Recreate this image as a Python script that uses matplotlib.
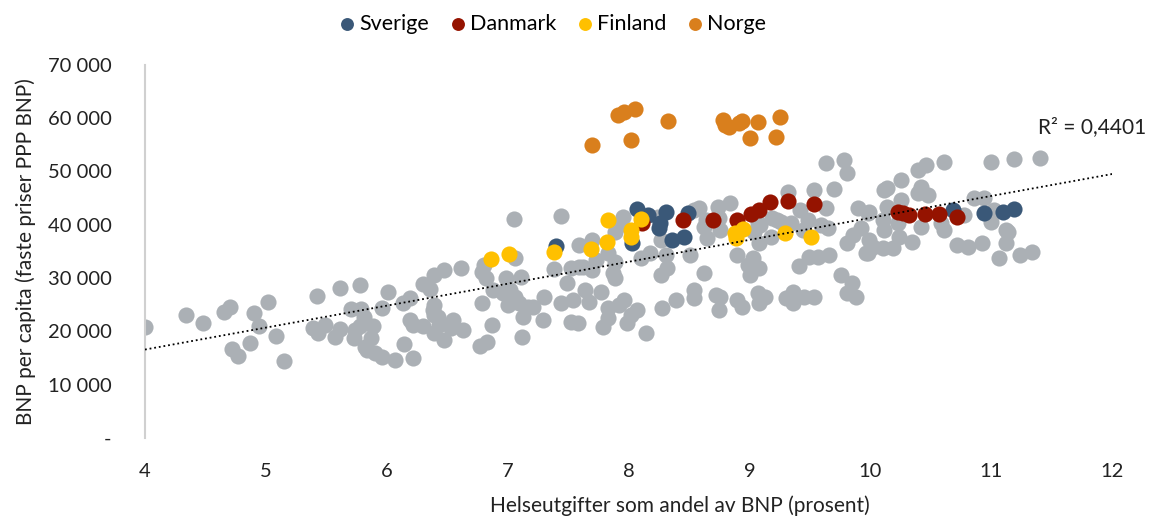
import matplotlib
matplotlib.use('Agg')
import matplotlib.pyplot as plt
import numpy as np

plt.rcParams['font.family'] = ['Lato', 'DejaVu Sans']

# Helseutgifter (% av BNP) og BNP per capita
sverige_x = [7.40, 8.03, 8.07, 8.16, 8.26, 8.25, 8.31, 8.36, 8.46, 8.49, 10.68, 10.94, 11.10, 11.19]
sverige_y = [36000, 36600, 43000, 41900, 40350, 39400, 42400, 37200, 37700, 42200, 42800, 42200, 42400, 43000]

danmark_x = [8.11, 8.45, 8.70, 8.90, 9.01, 9.08, 9.17, 9.32, 9.53, 10.23, 10.27, 10.32, 10.45, 10.57, 10.72]
danmark_y = [40300, 40900, 40900, 40900, 42000, 42800, 44300, 44500, 43900, 42400, 42200, 41900, 42000, 42000, 41500]

finland_x = [6.86, 7.01, 7.38, 7.69, 7.82, 7.83, 8.02, 8.02, 8.10, 8.88, 8.89, 8.95, 9.29, 9.51]
finland_y = [33600, 34500, 34900, 35500, 36800, 40900, 39000, 37700, 41100, 38500, 37500, 39200, 38500, 37700]

norge_x = [7.70, 7.91, 7.96, 8.05, 8.02, 8.33, 8.78, 8.80, 8.83, 8.91, 8.94, 9.00, 9.07, 9.22, 9.25]
norge_y = [55000, 60600, 61200, 61750, 55900, 59500, 59700, 58750, 58400, 59100, 59500, 56300, 59300, 56500, 60200]

andre_x = [
    4.00, 4.34, 4.48, 4.65, 4.70, 4.90, 4.94, 5.02, 4.72, 4.77, 4.87, 5.08, 5.15,
    5.42, 5.61, 5.78, 6.01, 6.30, 6.36, 6.39, 6.13, 6.19, 5.96, 5.70, 5.79, 5.81, 5.89,
    5.39, 5.43, 5.49, 5.61, 5.57, 5.74, 5.73, 5.78, 5.87, 5.82, 5.84, 5.90, 5.96, 6.07,
    6.14, 6.22, 6.19, 6.22, 6.30, 6.39, 6.38, 6.39,
    7.05, 7.44, 6.61, 6.47, 6.79, 6.82, 6.80, 7.06, 7.11, 6.99, 6.88, 6.96, 7.02, 7.06,
    7.00, 7.09, 7.17, 7.21, 7.13, 7.29, 7.30, 6.79, 6.39, 6.42, 6.43, 6.55, 6.53, 6.63,
    6.47, 6.87, 7.12, 6.77, 6.83, 7.38, 7.49, 7.44, 7.54, 7.52, 7.58, 7.52, 7.59, 7.59,
    7.70, 7.89, 7.95, 7.92, 8.24, 8.58, 8.74, 8.64, 8.65, 8.27, 8.51, 8.31, 8.18, 8.10,
    7.89, 7.83, 7.73, 7.62, 7.70, 7.87, 7.89, 8.32, 8.27, 8.62, 7.64, 7.77, 7.67, 7.96,
    7.92, 7.83, 8.07, 8.02, 7.83, 7.99, 7.79, 8.14, 8.28, 8.39, 8.54, 8.54, 8.72, 8.75,
    9.63, 9.78, 9.81, 9.32, 9.53, 9.70, 8.84, 9.42, 9.63, 9.48, 9.23, 9.09, 9.34, 9.59,
    9.65, 9.44, 9.04, 9.08, 9.18, 9.90, 9.98, 9.92, 9.86, 9.81, 9.98, 8.90, 9.03, 8.99,
    9.08, 9.00, 9.41, 9.49, 9.57, 9.66, 9.76, 9.85, 9.81, 9.88, 8.76, 8.90, 8.94, 9.07,
    9.13, 9.08, 9.30, 9.36, 9.36, 9.45, 9.53,
    10.61, 11.00, 10.39, 10.46, 10.25, 10.11, 10.14, 10.42, 10.39, 10.48, 10.25, 10.14,
    9.99, 10.86, 10.94, 11.02, 11.00, 11.12, 10.42, 10.58, 10.61, 10.77, 10.10, 10.11,
    10.23, 10.24, 9.99, 10.02, 10.10, 10.19, 10.34, 9.96, 10.72, 10.81, 10.92, 11.06,
    11.19, 11.40, 11.14, 11.12, 11.24, 11.34,
    8.54, 9.19, 9.26, 9.07, 8.75, 8.62, 8.76,
]
andre_y = [
    20800, 23100, 21600, 23600, 24600, 23500, 21000, 25500, 16700, 15400, 17800, 19100, 14500,
    26600, 28200, 28700, 27400, 28900, 28000, 30600, 25300, 26300, 24400, 24200, 24200, 22700, 21000,
    20600, 19700, 21200, 20500, 19000, 20300, 18800, 21000, 18800, 17100, 16500, 16000, 15200, 14600,
    17600, 15000, 22100, 21200, 21000, 19700, 24000, 23100,
    41100, 41700, 31900, 31500, 31200, 30000, 32500, 33800, 30200, 30000, 27800, 27200, 27800, 26500,
    25000, 25300, 24600, 24600, 22700, 22100, 26500, 25300, 25000, 22700, 21200, 22100, 20600, 20300,
    18400, 21200, 19000, 17300, 18000, 31700, 29100, 25300, 25900, 21800, 21600, 31900, 32100, 36200,
    37200, 38700, 41500, 40000, 41500, 43200, 43400, 40900, 37500, 37200, 34400, 34400, 34700, 33800,
    33000, 34700, 33400, 32100, 31500, 31000, 30000, 31900, 30600, 31000, 27800, 27400, 25500, 25900,
    25000, 24400, 24000, 23100, 22500, 21600, 20800, 19700, 24400, 25900, 27800, 26300, 26800, 24000,
    51600, 52200, 49700, 46200, 46600, 46700, 44100, 42800, 43200, 40900, 40900, 40000, 40400, 40000,
    39400, 39000, 38700, 36600, 37700, 43200, 42200, 39400, 38100, 36600, 34700, 34400, 33800, 32500,
    31900, 30600, 32300, 34000, 34000, 34400, 30600, 29100, 27200, 26500, 26500, 25900, 24600, 27200,
    26500, 25300, 26300, 27400, 25300, 26500, 26500,
    51800, 51800, 50300, 51200, 48400, 46600, 46900, 47100, 46000, 45600, 44700, 43400,
    42400, 45100, 45100, 42800, 40500, 39000, 39600, 40400, 39000, 41900, 40900, 39000,
    40400, 37700, 37200, 35900, 35700, 35700, 36800, 34700, 36200, 35900, 36600, 33800,
    52400, 52600, 38700, 36600, 34400, 34900,
    42800, 41300, 40500, 40300, 41300, 39600, 39000,
]

serier = [
    ('Sverige', sverige_x, sverige_y, '#3A5878'),
    ('Danmark', danmark_x, danmark_y, '#951300'),
    ('Finland', finland_x, finland_y, '#FFC000'),
    ('Norge', norge_x, norge_y, '#D97F1D'),
]

fig = plt.figure(figsize=(11.57, 5.27), dpi=100)
ax = fig.add_axes([0.1253, 0.169, 0.836, 0.708])

ax.scatter(andre_x, andre_y, s=135, color='#ABB0B5', linewidths=0, zorder=2)
for navn, xs, ys, farge in serier:
    ax.scatter(xs, ys, s=135, color=farge, linewidths=0, zorder=3, label=navn)

# lineær trendlinje over alle land
alle_x = np.array(andre_x + sverige_x + danmark_x + finland_x + norge_x)
alle_y = np.array(andre_y + sverige_y + danmark_y + finland_y + norge_y)
b, a = np.polyfit(alle_x, alle_y, 1)
tx = np.array([4, 12])
ax.plot(tx, a + b * tx, color='black', linestyle=(0, (1, 1.6)), lw=1.3, zorder=4)
ax.text(12.28, 58400, 'R² = 0,4401', ha='right', va='center', fontsize=15,
        color='#222222', clip_on=False)

ax.set_xlim(4, 12)
ax.set_ylim(0, 70000)
ax.set_xticks(range(4, 13))
ax.set_yticks(range(0, 70001, 10000))
ax.set_yticklabels(['-'] + [f'{v:,}'.replace(',', ' ') for v in range(10000, 70001, 10000)])
ax.tick_params(axis='both', length=0, labelsize=14.5, colors='#222222')
ax.tick_params(axis='x', pad=18)
ax.tick_params(axis='y', pad=24)

for side in ['top', 'right', 'bottom']:
    ax.spines[side].set_visible(False)
ax.spines['left'].set_color('#D0D0D0')
ax.spines['left'].set_linewidth(1.5)

ax.set_xlabel('Helseutgifter som andel av BNP (prosent)', fontsize=15, color='#222222')
ax.xaxis.set_label_coords(0.553, -0.155)
ax.set_ylabel('BNP per capita (faste priser PPP BNP)', fontsize=15, color='#222222')
ax.yaxis.set_label_coords(-0.113, 0.5)

fig.legend(loc='upper center', bbox_to_anchor=(0.478, 1.01), ncol=4, frameon=False,
           fontsize=15.5, handlelength=0.7, handletextpad=0.2, columnspacing=1.0,
           markerscale=0.8)

fig.savefig('out.png', dpi=100, facecolor='white')
